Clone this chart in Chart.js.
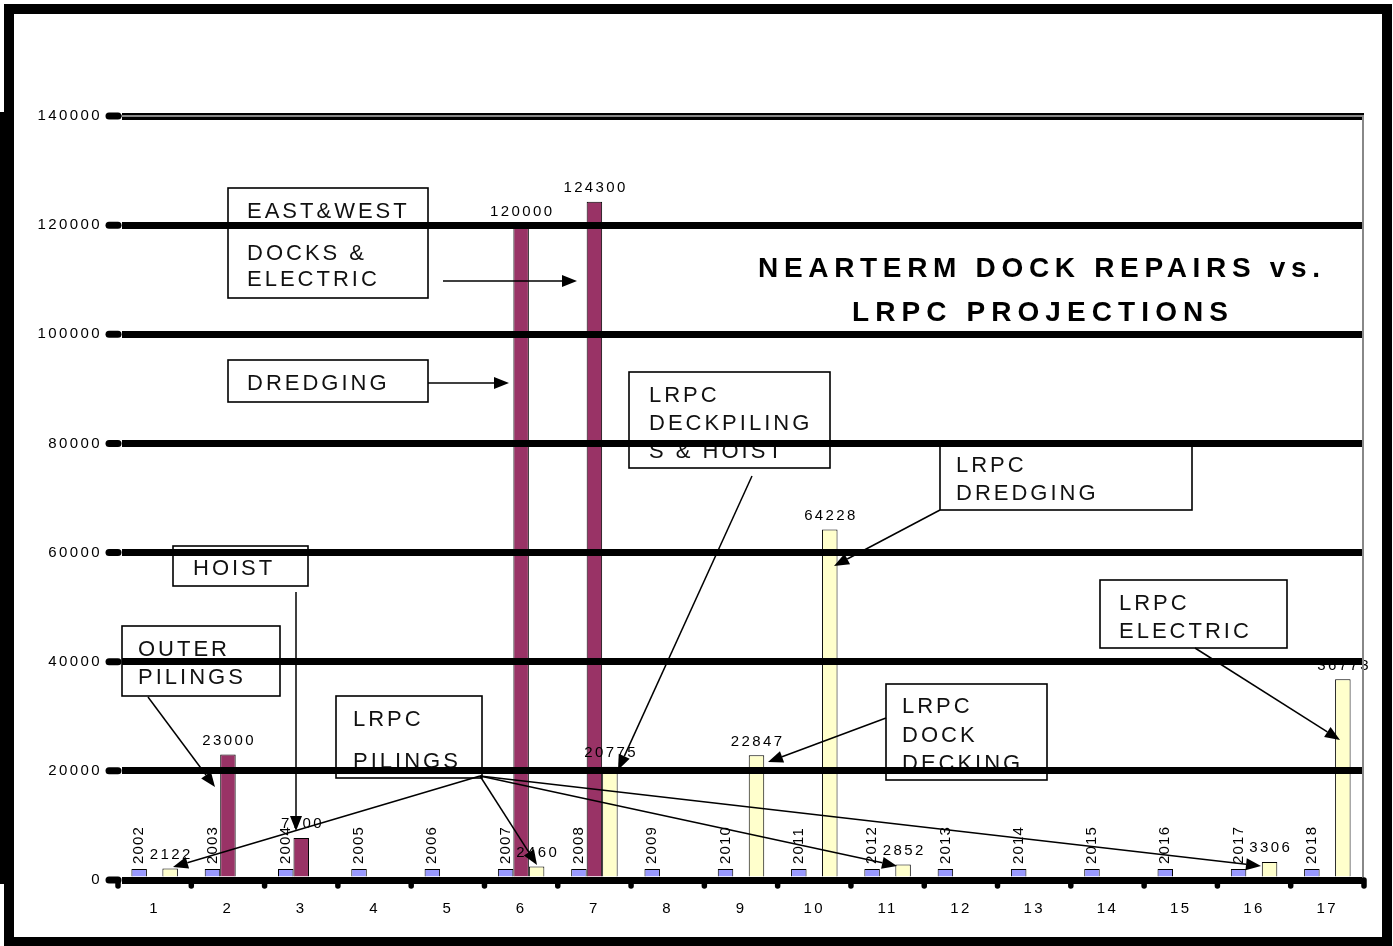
<!DOCTYPE html>
<html>
<head>
<meta charset="utf-8">
<title>Nearterm dock repairs vs. LRPC projections</title>
<script src="https://cdn.jsdelivr.net/npm/chart.js@4.4.1/dist/chart.umd.min.js"></script>
<style>
  html, body { margin: 0; padding: 0; background: #fff; }
  canvas { display: block; }
</style>
</head>
<body>
<canvas id="dockChart" width="1393" height="946"></canvas>
<script>
/* ================= DATA ================= */
const categories = ["1","2","3","4","5","6","7","8","9","10","11","12","13","14","15","16","17"];
const yearValues = [2002,2003,2004,2005,2006,2007,2008,2009,2010,2011,2012,2013,2014,2015,2016,2017,2018];
const nearTermValues = [null,23000,7700,null,null,120000,124300,null,null,null,null,null,null,null,null,null,null];
const lrpcValues = [2122,null,null,null,null,2460,20775,null,22847,64228,2852,null,null,null,null,3306,36773];
const yMin = 0, yMax = 140000, yStep = 20000;

const titleLines = ["NEARTERM DOCK REPAIRS vs.", "LRPC PROJECTIONS"];

/* ================= DRAWING OBJECTS (text boxes + arrows, page pixels) ================= */
const FONT = "'Liberation Sans', Arial, Helvetica, sans-serif";
const notes = [
  { box:[228,188,200,110], tx:247, lines:[["EAST&WEST",210],["DOCKS &",252],["ELECTRIC",278]],
    arrows:[[443,281,577,281]] },
  { box:[228,360,200,42], tx:247, lines:[["DREDGING",381.5]],
    arrows:[[428,383,509,383]] },
  { box:[173,546,135,40], tx:193, lines:[["HOIST",567]],
    arrows:[[296,592,296,831]] },
  { box:[122,626,158,70], tx:138, lines:[["OUTER",648],["PILINGS",676]],
    arrows:[[148,697,215,787]] },
  { box:[336,696,146,82], tx:353, lines:[["LRPC",718],["PILINGS",760]],
    arrows:[[480,776,173,867],[480,776,537,865],[480,776,897,866],[480,776,1261,866]] },
  { box:[629,372,201,96], tx:649, lines:[["LRPC",393.5],["DECKPILING",421.5],["S & HOIST",450]],
    arrows:[[752,476,618,770]] },
  { box:[940,441,252,69], tx:956, lines:[["LRPC",464],["DREDGING",492]],
    arrows:[[940,510,834,566]] },
  { box:[1100,580,187,68], tx:1119, lines:[["LRPC",602],["ELECTRIC",630]],
    arrows:[[1195,648,1340,740]] },
  { box:[886,684,161,96], tx:902, lines:[["LRPC",705],["DOCK",734],["DECKING",762]],
    arrows:[[886,718,768,762]] }
];

function arrow(ctx, x1, y1, x2, y2) {
  const a = Math.atan2(y2 - y1, x2 - x1), len = 15, hw = 6;
  const bx = x2 - len * Math.cos(a), by = y2 - len * Math.sin(a);
  ctx.beginPath(); ctx.moveTo(x1, y1); ctx.lineTo(bx, by); ctx.stroke();
  ctx.beginPath();
  ctx.moveTo(x2, y2);
  ctx.lineTo(bx + hw * Math.sin(a), by - hw * Math.cos(a));
  ctx.lineTo(bx - hw * Math.sin(a), by + hw * Math.cos(a));
  ctx.closePath(); ctx.fill();
}

// draw text so that its visible width is exactly w (letter spacing fitted)
function fitText(ctx, txt, left, baseline, w) {
  ctx.letterSpacing = "0px";
  const raw = ctx.measureText(txt).width;
  const s = (w - raw) / (txt.length - 1);
  ctx.letterSpacing = s + "px";
  ctx.textAlign = "left";
  ctx.fillText(txt, left, baseline);
}

/* ================= PLUGINS ================= */
const pagePlugin = {
  id: "page",
  beforeDraw(chart) {
    const ctx = chart.ctx;
    ctx.save();
    ctx.fillStyle = "#fff";
    ctx.fillRect(0, 0, chart.width, chart.height);
    ctx.restore();
    ctx.letterSpacing = "2.4px";   // wide tick text like the original
  },
  afterDatasetsDraw(chart) {
    const ctx = chart.ctx;
    ctx.save();
    ctx.fillStyle = "#000";
    ctx.font = "15px " + FONT;

    // value labels
    chart.data.datasets.forEach((ds, di) => {
      chart.getDatasetMeta(di).data.forEach((bar, i) => {
        const v = ds.data[i];
        if (v == null) return;
        if (di === 0) {
          ctx.save();
          ctx.translate(bar.x, bar.y - 5);
          ctx.rotate(-Math.PI / 2);
          ctx.letterSpacing = "1.2px";
          ctx.textAlign = "left";
          ctx.textBaseline = "middle";
          ctx.fillText(String(v), 0, 0);
          ctx.restore();
        } else {
          ctx.letterSpacing = "2.4px";
          ctx.textAlign = "center";
          ctx.textBaseline = "alphabetic";
          ctx.fillText(String(v), bar.x + 1.2, bar.y - 9.5);
        }
      });
    });

    // text boxes
    ctx.font = "22px " + FONT;
    ctx.letterSpacing = "3px";
    ctx.textAlign = "left";
    ctx.textBaseline = "alphabetic";
    notes.forEach(n => {
      const [bx, by, bw, bh] = n.box;
      ctx.fillStyle = "#fff";
      ctx.fillRect(bx, by, bw, bh);
      ctx.save();
      ctx.beginPath(); ctx.rect(bx, by, bw, bh); ctx.clip();
      ctx.fillStyle = "#111";
      n.lines.forEach(([t, cy]) => ctx.fillText(t, n.tx, cy + 8));
      ctx.restore();
      ctx.strokeStyle = "#000";
      ctx.lineWidth = 1.6;
      ctx.strokeRect(bx, by, bw, bh);
    });

    // arrows
    ctx.strokeStyle = "#000";
    ctx.fillStyle = "#000";
    ctx.lineWidth = 1.5;
    notes.forEach(n => n.arrows.forEach(a => arrow(ctx, a[0], a[1], a[2], a[3])));
    ctx.restore();
  },
  afterDraw(chart) {
    const ctx = chart.ctx, area = chart.chartArea;
    const xs = chart.scales.x, ys = chart.scales.y;
    ctx.save();

    // grey plot border (top and right)
    ctx.strokeStyle = "#888";
    ctx.lineWidth = 2;
    ctx.beginPath();
    ctx.moveTo(area.left, area.top);
    ctx.lineTo(area.right - 1, area.top);
    ctx.lineTo(area.right - 1, area.bottom);
    ctx.stroke();

    // round tick marks
    ctx.strokeStyle = "#000";
    ctx.lineCap = "round";
    ctx.lineWidth = 7;
    ys.ticks.forEach(t => {
      const y = ys.getPixelForValue(t.value);
      ctx.beginPath(); ctx.moveTo(area.left - 9, y); ctx.lineTo(area.left, y); ctx.stroke();
    });
    ctx.lineWidth = 5.5;
    const half = (xs.getPixelForValue(1) - xs.getPixelForValue(0)) / 2;
    for (let i = 0; i <= categories.length; i++) {
      const x = xs.getPixelForValue(0) - half + i * half * 2;
      ctx.beginPath(); ctx.moveTo(x, area.bottom); ctx.lineTo(x, area.bottom + 6); ctx.stroke();
    }

    // title
    ctx.fillStyle = "#000";
    ctx.font = "bold 28px " + FONT;
    ctx.textBaseline = "alphabetic";
    fitText(ctx, titleLines[0], 758, 277, 562);
    fitText(ctx, titleLines[1], 852, 320.5, 376);

    // outer frame
    ctx.fillStyle = "#000";
    ctx.fillRect(4, 4, 1388, 10);
    ctx.fillRect(4, 937, 1388, 9);
    ctx.fillRect(4, 4, 10, 942);
    ctx.fillRect(1382, 4, 10, 942);
    ctx.restore();
  }
};

/* ================= CHART ================= */
new Chart(document.getElementById("dockChart"), {
  type: "bar",
  data: {
    labels: categories,
    datasets: [
      { label: "Year", data: yearValues, backgroundColor: "#9999FF", borderColor: "#000", borderWidth: 1 },
      { label: "Nearterm dock repairs", data: nearTermValues, backgroundColor: "#993366", borderColor: "#000", borderWidth: 1 },
      { label: "LRPC projections", data: lrpcValues, backgroundColor: "#FFFFCC", borderColor: "#000", borderWidth: 1 }
    ]
  },
  options: {
    responsive: false,
    devicePixelRatio: 1,
    animation: false,
    layout: { padding: { top: 116, right: 29, left: 0, bottom: 0 } },
    datasets: { bar: { categoryPercentage: 0.634, barPercentage: 1 } },
    plugins: { legend: { display: false }, tooltip: { enabled: false }, title: { display: false } },
    scales: {
      x: {
        offset: true,
        grid: { display: false },
        border: { display: false },
        ticks: { color: "#000", font: { family: FONT, size: 15 }, padding: 12, maxRotation: 0, autoSkip: false },
        afterFit: s => { s.height = 66; }
      },
      y: {
        min: yMin, max: yMax,
        ticks: { stepSize: yStep, color: "#000", font: { family: FONT, size: 15 }, padding: 16,
                 callback: v => String(v) },
        grid: { color: "#000", lineWidth: 7, drawTicks: false, z: 1 },
        border: { display: true, color: "#000", width: 8 },
        afterFit: s => { s.width = 118; }
      }
    }
  },
  plugins: [pagePlugin]
});
</script>
</body>
</html>
